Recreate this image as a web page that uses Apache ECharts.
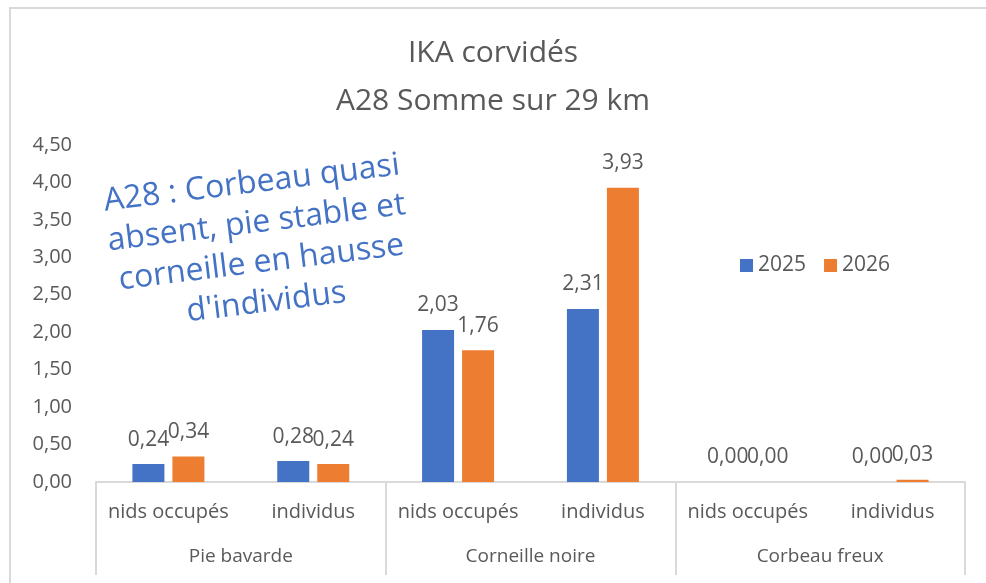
<!DOCTYPE html>
<html lang="fr">
<head>
<meta charset="UTF-8">
<title>IKA corvidés</title>
<script src="https://cdn.jsdelivr.net/npm/echarts@6/dist/echarts.min.js"></script>
<style>
  html, body { margin: 0; padding: 0; background: #fff; }
  #chart { width: 986px; height: 583px; }
</style>
</head>
<body>
<div id="chart"></div>
<script>
var subCategories = ['nids occupés', 'individus', 'nids occupés', 'individus', 'nids occupés', 'individus'];
var groups = ['Pie bavarde', 'Corneille noire', 'Corbeau freux'];
var years = ['2025', '2026'];
var values2025 = [0.24, 0.28, 2.03, 2.31, 0.00, 0.00];
var values2026 = [0.34, 0.24, 1.76, 3.93, 0.00, 0.03];
var colors = ['#4472C4', '#ED7D31'];

var textGrey = '#595959';
var lineGrey = '#D9D9D9';
var font = 'Open Sans';

function comma(v) {
    return v.toFixed(2).replace('.', ',');
}

var chart = echarts.init(document.getElementById('chart'));

var series = [values2025, values2026].map(function (vals, i) {
    return {
        name: years[i],
        type: 'bar',
        data: vals,
        barWidth: 32,
        barGap: '25%',
        itemStyle: { color: colors[i] },
        label: {
            show: true,
            position: 'top',
            distance: 14,
            color: textGrey,
            fontFamily: font,
            fontSize: 21,
            formatter: function (p) { return comma(p.value); }
        }
    };
});

chart.setOption({
    backgroundColor: '#fff',
    animation: false,
    title: {
        text: 'IKA corvidés\nA28 Somme sur 29 km',
        left: 'center',
        top: 24,
        textStyle: {
            color: textGrey,
            fontFamily: font,
            fontSize: 30,
            fontWeight: 'normal',
            lineHeight: 48
        }
    },
    legend: {
        data: years,
        left: 735,
        top: 250,
        itemWidth: 13,
        itemHeight: 13,
        itemGap: 18,
        icon: 'rect',
        textStyle: { color: textGrey, fontFamily: font, fontSize: 21 }
    },
    grid: { left: 96, right: 21, top: 145, bottom: 101 },
    xAxis: [{
        type: 'category',
        data: subCategories,
        axisLine: { lineStyle: { color: lineGrey, width: 2 } },
        axisTick: { show: false },
        axisLabel: { color: textGrey, fontFamily: font, fontSize: 20, margin: 20, interval: 0 }
    }, {
        type: 'category',
        data: groups,
        position: 'bottom',
        axisLine: { show: false },
        axisTick: { show: true, length: 93, lineStyle: { color: lineGrey, width: 2 } },
        axisLabel: { color: textGrey, fontFamily: font, fontSize: 19, margin: 65, interval: 0 }
    }],
    yAxis: {
        type: 'value',
        min: 0,
        max: 4.5,
        interval: 0.5,
        axisLine: { show: false },
        axisTick: { show: false },
        splitLine: { show: false },
        axisLabel: {
            color: textGrey,
            fontFamily: font,
            fontSize: 20,
            margin: 24,
            formatter: function (v) { return comma(v); }
        }
    },
    graphic: [{
        type: 'rect',
        shape: { x: 10, y: 8, width: 1100, height: 700 },
        style: { fill: null, stroke: lineGrey, lineWidth: 2 },
        silent: true
    }, {
        type: 'text',
        x: 259,
        y: 243,
        rotation: 7 * Math.PI / 180,
        style: {
            text: 'A28 : Corbeau quasi\nabsent, pie stable et\ncorneille en hausse\nd\'individus',
            fill: '#4472C4',
            fontFamily: font,
            fontSize: 32,
            lineHeight: 40,
            align: 'center',
            verticalAlign: 'middle'
        }
    }],
    series: series
});
</script>
</body>
</html>
